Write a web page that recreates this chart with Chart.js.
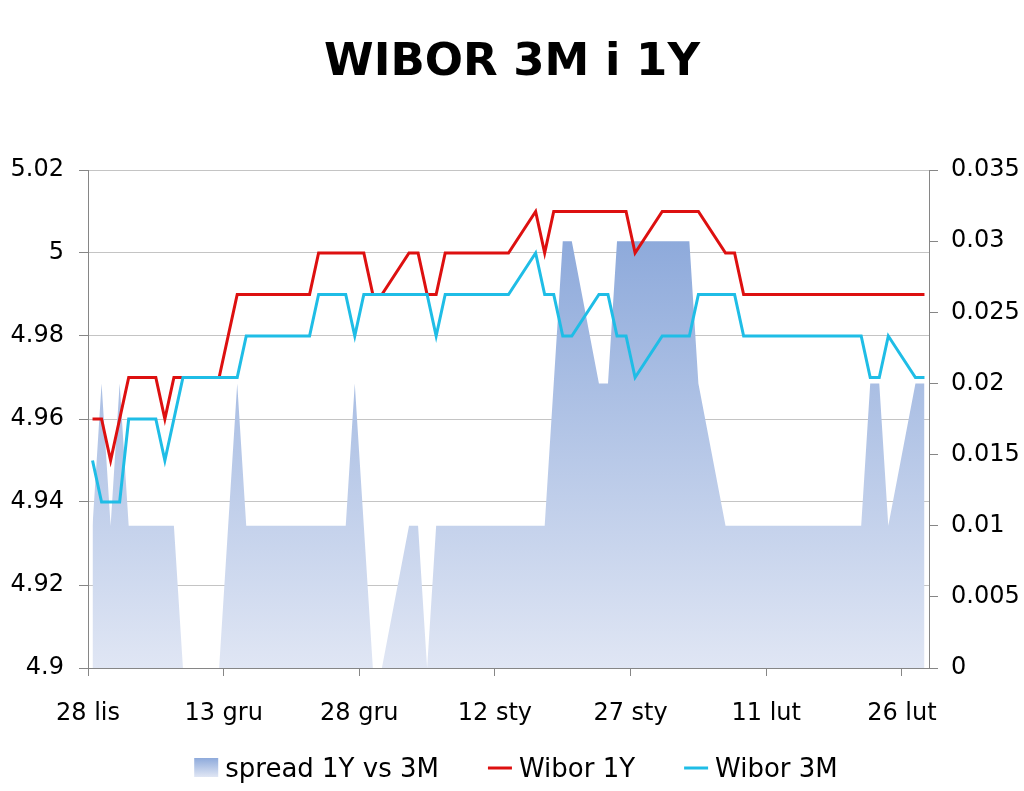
<!DOCTYPE html>
<html>
<head>
<meta charset="utf-8">
<script src="https://cdn.jsdelivr.net/npm/chart.js@4.4.1/dist/chart.umd.min.js"></script>
<style>
  html, body { margin: 0; padding: 0; background: #ffffff; }
  #wrap { width: 1024px; height: 791px; position: relative; }
</style>
</head>
<body>
<div id="wrap"><canvas id="c" width="1024" height="791"></canvas></div>
<script>
// ---- data ----
const startDate = '2011-11-28';
const dates = [
  '2011-11-28','2011-11-29','2011-11-30','2011-12-01','2011-12-02',
  '2011-12-05','2011-12-06','2011-12-07','2011-12-08','2011-12-09',
  '2011-12-12','2011-12-13','2011-12-14','2011-12-15','2011-12-16',
  '2011-12-19','2011-12-20','2011-12-21','2011-12-22','2011-12-23',
  '2011-12-26','2011-12-27','2011-12-28','2011-12-29','2011-12-30',
  '2012-01-02','2012-01-03','2012-01-04','2012-01-05','2012-01-06',
  '2012-01-09','2012-01-10','2012-01-11','2012-01-12','2012-01-13',
  '2012-01-16','2012-01-17','2012-01-18','2012-01-19','2012-01-20',
  '2012-01-23','2012-01-24','2012-01-25','2012-01-26','2012-01-27',
  '2012-01-30','2012-01-31','2012-02-01','2012-02-02','2012-02-03',
  '2012-02-06','2012-02-07','2012-02-08','2012-02-09','2012-02-10',
  '2012-02-13','2012-02-14','2012-02-15','2012-02-16','2012-02-17',
  '2012-02-20','2012-02-21','2012-02-22','2012-02-23','2012-02-24',
  '2012-02-27','2012-02-28'
];
const wibor1Y = [
  4.96,4.96,4.95,4.96,4.97,
  4.97,4.96,4.97,4.97,4.97,
  4.97,4.98,4.99,4.99,4.99,
  4.99,4.99,4.99,4.99,5.00,
  5.00,5.00,5.00,4.99,4.99,
  5.00,5.00,4.99,4.99,5.00,
  5.00,5.00,5.00,5.00,5.00,
  5.01,5.00,5.01,5.01,5.01,
  5.01,5.01,5.01,5.01,5.00,
  5.01,5.01,5.01,5.01,5.01,
  5.00,5.00,4.99,4.99,4.99,
  4.99,4.99,4.99,4.99,4.99,
  4.99,4.99,4.99,4.99,4.99,
  4.99,4.99
];
const wibor3M = [
  4.95,4.94,4.94,4.94,4.96,
  4.96,4.95,4.96,4.97,4.97,
  4.97,4.97,4.97,4.98,4.98,
  4.98,4.98,4.98,4.98,4.99,
  4.99,4.98,4.99,4.99,4.99,
  4.99,4.99,4.99,4.98,4.99,
  4.99,4.99,4.99,4.99,4.99,
  5.00,4.99,4.99,4.98,4.98,
  4.99,4.99,4.98,4.98,4.97,
  4.98,4.98,4.98,4.98,4.99,
  4.99,4.99,4.98,4.98,4.98,
  4.98,4.98,4.98,4.98,4.98,
  4.98,4.98,4.97,4.97,4.98,
  4.97,4.97
];
const spread = [
  0.01,0.02,0.01,0.02,0.01,
  0.01,0.01,0.01,0.00,0.00,
  0.00,0.01,0.02,0.01,0.01,
  0.01,0.01,0.01,0.01,0.01,
  0.01,0.02,0.01,0.00,0.00,
  0.01,0.01,0.00,0.01,0.01,
  0.01,0.01,0.01,0.01,0.01,
  0.01,0.01,0.02,0.03,0.03,
  0.02,0.02,0.03,0.03,0.03,
  0.03,0.03,0.03,0.03,0.02,
  0.01,0.01,0.01,0.01,0.01,
  0.01,0.01,0.01,0.01,0.01,
  0.01,0.01,0.02,0.02,0.01,
  0.02,0.02
];
const xTickLabels = ['28 lis','13 gru','28 gru','12 sty','27 sty','11 lut','26 lut'];
const leftTicks = [4.9, 4.92, 4.94, 4.96, 4.98, 5.0, 5.02];
const rightTicks = [0, 0.005, 0.01, 0.015, 0.02, 0.025, 0.03, 0.035];
const seriesNames = ['spread 1Y vs 3M', 'Wibor 1Y', 'Wibor 3M'];
const titleText = 'WIBOR 3M i 1Y';

// ---- helpers ----
const DAY = 86400000;
const t0 = Date.parse(startDate + 'T00:00:00Z');
const dayIndex = d => Math.round((Date.parse(d + 'T00:00:00Z') - t0) / DAY);
const xSpanDays = dayIndex('2012-02-29');
const tickStepDays = 15;
// Excel-style date axis: each point sits in the middle of its day slot
const toPoints = vals => vals.map((v, i) => ({ x: dayIndex(dates[i]) + 0.5, y: v }));

const FONT = "'DejaVu Sans', Verdana, sans-serif";
const AXIS_GREY = '#868686';
const GRID_GREY = '#c4c4c4';
const RED = '#dd1010';
const CYAN = '#1fbde6';
const GRAD_TOP = '#8eaadb';
const GRAD_BOTTOM = '#e0e6f4';

function spreadGradient(chart, top, bottom) {
  const g = chart.ctx.createLinearGradient(0, top, 0, bottom);
  g.addColorStop(0, GRAD_TOP);
  g.addColorStop(1, GRAD_BOTTOM);
  return g;
}

const fmt = v => String(parseFloat(Number(v).toFixed(4)));

// custom legend, drawn in the canvas
const legendPlugin = {
  id: 'excelLegend',
  afterDraw(chart) {
    const ctx = chart.ctx;
    const y = 768;
    const fontPx = 26;
    ctx.save();
    ctx.font = fontPx + 'px ' + FONT;
    const symW = 24, gap = 7, spacing = 49;
    const items = chart.data.datasets.map(ds => ({
      text: ds.label, type: ds.yAxisID === 'y1' ? 'box' : 'line', color: ds.borderColor
    }));
    items.sort((a, b) => seriesNames.indexOf(a.text) - seriesNames.indexOf(b.text));
    const widths = items.map(it => symW + gap + ctx.measureText(it.text).width);
    const total = widths.reduce((a, b) => a + b, 0) + spacing * (items.length - 1);
    let x = 516 - total / 2;
    items.forEach((it, i) => {
      if (it.type === 'box') {
        ctx.fillStyle = spreadGradient(chart, y - 10, y + 9);
        ctx.fillRect(x, y - 10, symW, 19);
      } else {
        ctx.strokeStyle = it.color;
        ctx.lineWidth = 3;
        ctx.beginPath();
        ctx.moveTo(x, y);
        ctx.lineTo(x + symW, y);
        ctx.stroke();
      }
      ctx.fillStyle = '#000';
      ctx.textBaseline = 'alphabetic';
      ctx.textAlign = 'left';
      ctx.fillText(it.text, x + symW + gap, y + 9);
      x += widths[i] + spacing;
    });
    ctx.restore();
  }
};

const chart = new Chart(document.getElementById('c'), {
  type: 'line',
  data: {
    datasets: [
      {
        label: seriesNames[2],
        data: toPoints(wibor3M),
        yAxisID: 'y',
        borderColor: CYAN,
        borderWidth: 3,
        pointRadius: 0,
        tension: 0,
        fill: false,
        order: 1
      },
      {
        label: seriesNames[1],
        data: toPoints(wibor1Y),
        yAxisID: 'y',
        borderColor: RED,
        borderWidth: 3,
        pointRadius: 0,
        tension: 0,
        fill: false,
        order: 2
      },
      {
        label: seriesNames[0],
        data: toPoints(spread),
        yAxisID: 'y1',
        borderColor: GRAD_TOP,
        borderWidth: 0,
        pointRadius: 0,
        tension: 0,
        fill: 'origin',
        order: 3,
        backgroundColor: (c) => {
          const ch = c.chart;
          const area = ch.chartArea;
          if (!area || !ch.scales.y1) return GRAD_BOTTOM;
          const top = ch.scales.y1.getPixelForValue(Math.max(...spread));
          return spreadGradient(ch, top, area.bottom);
        }
      }
    ]
  },
  options: {
    responsive: false,
    animation: false,
    devicePixelRatio: 1,
    layout: { padding: { left: 0, right: 0, top: 0, bottom: 48 } },
    plugins: {
      legend: { display: false },
      tooltip: { enabled: false },
      title: {
        display: true,
        text: titleText,
        color: '#000',
        font: { family: "'DejaVu Sans', sans-serif", size: 45, weight: 'bold', lineHeight: 1.2 },
        padding: { top: 36, bottom: 80 }
      }
    },
    scales: {
      x: {
        type: 'linear',
        min: 0,
        max: xSpanDays,
        afterBuildTicks: s => { s.ticks = xTickLabels.map((l, i) => ({ value: i * tickStepDays })); },
        afterFit: s => { s.height = 75; },
        ticks: {
          autoSkip: false,
          maxRotation: 0,
          padding: 23,
          color: '#000',
          font: { family: FONT, size: 24 },
          callback: v => xTickLabels[Math.round(v / tickStepDays)]
        },
        grid: { drawOnChartArea: false, drawTicks: true, tickLength: 8, color: AXIS_GREY, tickColor: AXIS_GREY },
        border: { color: AXIS_GREY, width: 1 }
      },
      y: {
        position: 'left',
        min: leftTicks[0],
        max: leftTicks[leftTicks.length - 1],
        afterBuildTicks: s => { s.ticks = leftTicks.map(v => ({ value: v })); },
        afterFit: s => { s.width = 88; },
        ticks: {
          padding: 15,
          color: '#000',
          font: { family: FONT, size: 24 },
          callback: v => fmt(v)
        },
        grid: { color: GRID_GREY, tickColor: AXIS_GREY, tickLength: 9, lineWidth: 1 },
        border: { color: AXIS_GREY, width: 1 }
      },
      y1: {
        position: 'right',
        min: rightTicks[0],
        max: rightTicks[rightTicks.length - 1],
        afterBuildTicks: s => { s.ticks = rightTicks.map(v => ({ value: v })); },
        afterFit: s => { s.width = 95; },
        ticks: {
          padding: 13,
          color: '#000',
          font: { family: FONT, size: 24 },
          callback: v => fmt(v)
        },
        grid: { drawOnChartArea: false, color: AXIS_GREY, tickColor: AXIS_GREY, tickLength: 9 },
        border: { color: AXIS_GREY, width: 1 }
      }
    }
  },
  plugins: [legendPlugin]
});
</script>
</body>
</html>
